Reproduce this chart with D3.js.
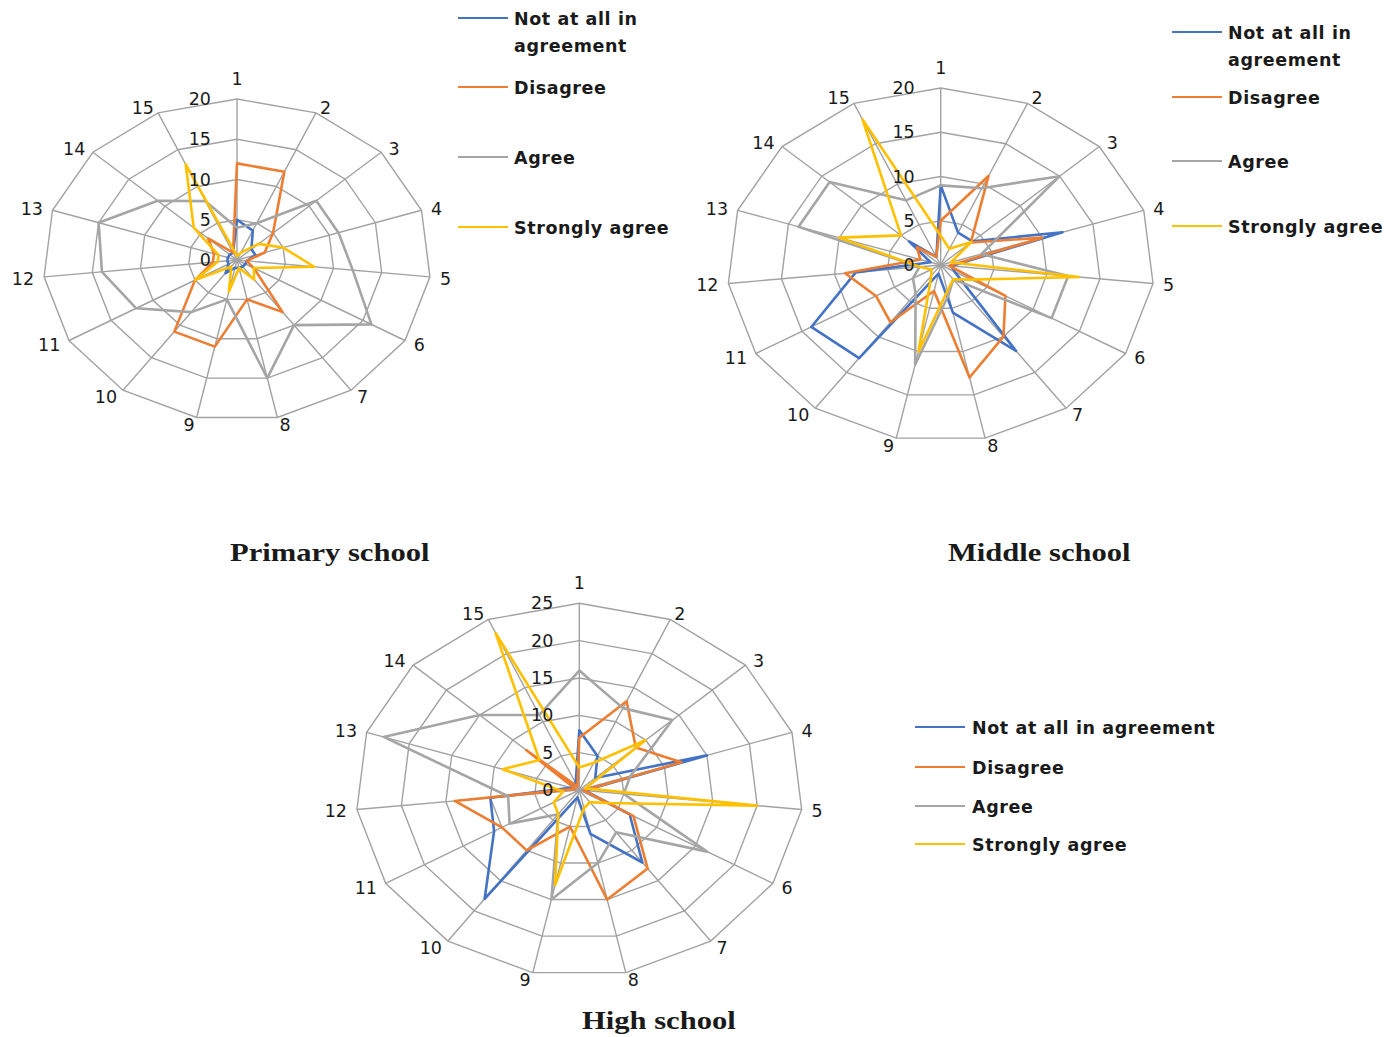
<!DOCTYPE html>
<html>
<head>
<meta charset="utf-8">
<script src="https://cdn.jsdelivr.net/npm/d3@7"></script>
<style>
  body { margin: 0; background: #ffffff; }
  svg { display: block; }
</style>
</head>
<body>
<svg id="chart" width="1397" height="1037"></svg>
<script>
// ---------- data ----------
const categories = ["1","2","3","4","5","6","7","8","9","10","11","12","13","14","15"];
const seriesNames = ["Not at all in agreement", "Disagree", "Agree", "Strongly agree"];
const seriesColors = ["#4472C4", "#ED7D31", "#A5A5A5", "#FFC000"];

const primaryTicks = [0, 5, 10, 15, 20];
const primaryNotAtAll = [5, 4, 2, 2, 1, 1, 1, 1, 1, 2, 1, 1, 1, 1, 1];
const primaryDisagree = [12, 12, 5, 3, 1, 2, 8, 5, 11, 11, 5, 2.5, 2.5, 4, 1];
const primaryAgree = [4, 5, 11, 11, 12, 16, 10, 15, 5, 8, 12, 14, 15, 11, 8];
const primaryStrongly = [0.5, 1, 3, 5, 8, 2, 3, 1, 4, 1, 5, 2, 2, 6, 13];

const middleTicks = [0, 5, 10, 15, 20];
const middleNotAtAll = [9, 4, 4, 12, 1, 1.5, 12, 5.5, 1, 13, 14, 8, 1, 4, 1];
const middleDisagree = [5, 11, 3.8, 10, 0.8, 7, 10, 13, 3, 8, 7, 9, 2, 3, 1];
const middleAgree = [9, 9.5, 15, 4, 12, 12, 2, 3.5, 11.5, 4, 3, 2, 14, 14, 8];
const middleStrongly = [3.3, 2, 3.9, 1, 13, 3.3, 2, 3, 10, 1.5, 1, 2, 10, 5, 18];

const highTicks = [0, 5, 10, 15, 20, 25];
const highNotAtAll = [8, 5, 2.4, 15, 0.6, 6.5, 12, 6, 1, 18, 11, 10, 1, 1, 1];
const highDisagree = [7, 13, 8.5, 12, 0.5, 7, 13, 15, 5, 10, 10, 14, 0.5, 8, 0.5];
const highAgree = [16, 12, 14, 6, 5, 16.5, 7, 10, 15, 4, 9, 8, 23, 15, 11];
const highStrongly = [3, 4, 10, 0.7, 20, 3.5, 2, 2.5, 13, 4, 3.3, 1.8, 9, 6, 23];

const titles = ["Primary school", "Middle school", "High school"];

// ---------- layout ----------
const svg = d3.select("#chart");
const charts = [
  { cx: 237, cy: 260, rx: 194, ry: 161, ticks: primaryTicks,
    series: [primaryNotAtAll, primaryDisagree, primaryAgree, primaryStrongly],
    title: titles[0], titleX: 230, titleY: 561,
    legend: { x1: 458, x2: 508, tx: 514, ys: [18, 87, 157, 227], wrap: true } },
  { cx: 940.7, cy: 265, rx: 213.5, ry: 177, ticks: middleTicks,
    series: [middleNotAtAll, middleDisagree, middleAgree, middleStrongly],
    title: titles[1], titleX: 948, titleY: 561,
    legend: { x1: 1172, x2: 1222, tx: 1228, ys: [32, 97, 161, 226], wrap: true } },
  { cx: 579.3, cy: 790, rx: 223.6, ry: 186.7, ticks: highTicks,
    series: [highNotAtAll, highDisagree, highAgree, highStrongly],
    title: titles[2], titleX: 582, titleY: 1029,
    legend: { x1: 915, x2: 965, tx: 972, ys: [727, 767, 806, 844], wrap: false } }
];

const gridColor = "#a2a2a2";
const textColor = "#1a1a1a";
const labelFont = "'DejaVu Sans', Verdana, sans-serif";

function drawRadar(cfg) {
  const g = svg.append("g");
  const maxV = d3.max(cfg.ticks);
  const sx = d3.scaleLinear().domain([0, maxV]).range([0, cfg.rx]);
  const sy = d3.scaleLinear().domain([0, maxV]).range([0, cfg.ry]);
  const angle = d3.scaleLinear().domain([0, categories.length]).range([0, 2 * Math.PI]);
  const px = (i, v) => cfg.cx + sx(v) * Math.sin(angle(i));
  const py = (i, v) => cfg.cy - sy(v) * Math.cos(angle(i));
  const ring = d3.line().x(d => px(d.i, d.v)).y(d => py(d.i, d.v)).curve(d3.curveLinearClosed);

  // rings
  g.append("g").selectAll("path")
    .data(cfg.ticks.filter(t => t > 0))
    .join("path")
    .attr("d", t => ring(categories.map((c, i) => ({ i, v: t }))))
    .attr("fill", "none")
    .attr("stroke", gridColor)
    .attr("stroke-width", 1.4);

  // spokes
  g.append("g").selectAll("line")
    .data(categories)
    .join("line")
    .attr("x1", cfg.cx).attr("y1", cfg.cy)
    .attr("x2", (c, i) => px(i, maxV))
    .attr("y2", (c, i) => py(i, maxV))
    .attr("stroke", gridColor)
    .attr("stroke-width", 1.4);

  // series
  g.append("g").selectAll("path")
    .data(cfg.series)
    .join("path")
    .attr("d", vals => ring(vals.map((v, i) => ({ i, v }))))
    .attr("fill", "none")
    .attr("stroke", (d, k) => seriesColors[k])
    .attr("stroke-width", 2.6)
    .attr("stroke-linejoin", "round");

  // tick labels
  g.append("g").selectAll("text")
    .data(cfg.ticks)
    .join("text")
    .attr("x", cfg.cx - 26)
    .attr("y", t => py(0, t))
    .attr("text-anchor", "end")
    .attr("dominant-baseline", "central")
    .attr("font-family", labelFont)
    .attr("font-size", 17.5)
    .attr("fill", textColor)
    .text(t => t);

  // category labels
  g.append("g").selectAll("text")
    .data(categories)
    .join("text")
    .attr("x", (c, i) => px(i, maxV) + Math.sin(angle(i)) * 10)
    .attr("y", (c, i) => py(i, maxV) - Math.cos(angle(i)) * 7 + 1 - (i === 0 ? 14 : 0))
    .attr("text-anchor", (c, i) => {
      const s = Math.sin(angle(i));
      return s > 0.01 ? "start" : (s < -0.01 ? "end" : "middle");
    })
    .attr("dominant-baseline", "central")
    .attr("font-family", labelFont)
    .attr("font-size", 17.5)
    .attr("fill", textColor)
    .text(c => c);

  // title
  svg.append("text")
    .attr("transform", `translate(${cfg.titleX},${cfg.titleY}) scale(1.19,1)`)
    .attr("font-family", "'Liberation Serif', 'Times New Roman', serif")
    .attr("font-weight", "bold")
    .attr("font-size", 25.7)
    .attr("fill", textColor)
    .text(cfg.title);

  // legend
  const L = cfg.legend;
  const lg = svg.append("g");
  seriesNames.forEach((name, k) => {
    const y = L.ys[k];
    lg.append("line")
      .attr("x1", L.x1).attr("x2", L.x2)
      .attr("y1", y).attr("y2", y)
      .attr("stroke", seriesColors[k])
      .attr("stroke-width", 2.2);
    const lines = (L.wrap && k === 0) ? ["Not at all in", "agreement"] : [name];
    lines.forEach((ln, j) => {
      lg.append("text")
        .attr("x", L.tx)
        .attr("y", y + 6.5 + j * 27)
        .attr("font-family", labelFont)
        .attr("font-weight", "bold")
        .attr("font-size", 17.5)
        .attr("letter-spacing", 0.6)
        .attr("fill", textColor)
        .text(ln);
    });
  });
}

charts.forEach(drawRadar);
</script>
</body>
</html>
